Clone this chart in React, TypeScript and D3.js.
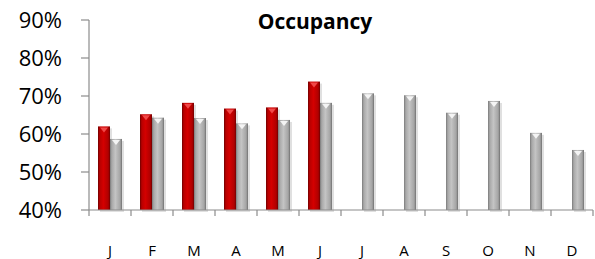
import React from 'react';
import * as d3 from 'd3';

const months = ['J', 'F', 'M', 'A', 'M', 'J', 'J', 'A', 'S', 'O', 'N', 'D'];
const actual: (number | null)[] = [0.62, 0.652, 0.682, 0.667, 0.67, 0.738, null, null, null, null, null, null];
const lastYear: number[] = [0.587, 0.643, 0.642, 0.628, 0.637, 0.682, 0.707, 0.702, 0.656, 0.687, 0.603, 0.558];
const yTicks = [0.4, 0.5, 0.6, 0.7, 0.8, 0.9];

const W = 595;
const H = 259;
const margin = { left: 89, right: 2, top: 20, bottom: 49 };

const App: React.FC = () => {
  const x = d3.scaleBand<number>()
    .domain(d3.range(months.length))
    .range([margin.left, W - margin.right]);
  const y = d3.scaleLinear().domain([0.4, 0.9]).range([H - margin.bottom, margin.top]);
  const barW = 12;
  const inner = d3.scaleBand<string>().domain(['a', 'b']).range([x.bandwidth() / 2 - barW, x.bandwidth() / 2 + barW]);

  const bar = (key: string, i: number, v: number, kind: 'red' | 'gray') => {
    const bx = (x(i) as number) + (inner(kind === 'red' ? 'a' : 'b') as number);
    const top = y(v);
    const bottom = y(0.4);
    const tri = `M${bx + 2},${top + 1} L${bx + barW - 2},${top + 1} L${bx + barW / 2},${top + 6} Z`;
    return (
      <g key={key}>
        <rect x={bx + 2} y={top + 2} width={barW} height={bottom - top} fill="#000" opacity={0.12} />
        <rect x={bx} y={top} width={barW} height={bottom - top} fill={`url(#g-${kind})`} />
        <path d={tri} fill={kind === 'red' ? '#f04848' : '#f4f4f4'} />
      </g>
    );
  };

  return (
    <svg width={W} height={H} style={{ position: 'absolute', left: 0, top: 0, background: '#fff' }}
      fontFamily="'Open Sans', sans-serif">
      <defs>
        <linearGradient id="g-red" x1="0" x2="1" y1="0" y2="0">
          <stop offset="0" stopColor="#6e0000" />
          <stop offset="0.15" stopColor="#b80000" />
          <stop offset="0.45" stopColor="#d40000" />
          <stop offset="0.85" stopColor="#b00000" />
          <stop offset="1" stopColor="#700000" />
        </linearGradient>
        <linearGradient id="g-gray" x1="0" x2="1" y1="0" y2="0">
          <stop offset="0" stopColor="#7a7a7a" />
          <stop offset="0.15" stopColor="#a8a8a8" />
          <stop offset="0.45" stopColor="#c4c4c4" />
          <stop offset="0.85" stopColor="#a4a4a4" />
          <stop offset="1" stopColor="#707070" />
        </linearGradient>
      </defs>

      <text x={315} y={29} textAnchor="middle" fontSize={21} fontWeight="bold" fill="#000">Occupancy</text>

      {months.map((m, i) => (
        <g key={'b' + i}>
          {actual[i] != null && bar('r' + i, i, actual[i] as number, 'red')}
          {bar('g' + i, i, lastYear[i], 'gray')}
        </g>
      ))}

      {/* y axis */}
      <line x1={margin.left} x2={margin.left} y1={y(0.9)} y2={y(0.4)} stroke="#8c8c8c" strokeWidth={1.2} />
      {yTicks.map(t => (
        <g key={'y' + t}>
          <line x1={margin.left - 8} x2={margin.left} y1={y(t)} y2={y(t)} stroke="#8c8c8c" strokeWidth={1.2} />
          <text x={62} y={y(t)} dy="0.36em" textAnchor="end" fontSize={22} fill="#000">{d3.format('.0%')(t)}</text>
        </g>
      ))}

      {/* x axis */}
      <line x1={margin.left} x2={W - margin.right} y1={y(0.4)} y2={y(0.4)} stroke="#8c8c8c" strokeWidth={1.2} />
      {d3.range(months.length + 1).map(i => {
        const tx = i < months.length ? (x(i) as number) : W - margin.right;
        return <line key={'xt' + i} x1={tx} x2={tx} y1={y(0.4)} y2={y(0.4) + 6} stroke="#8c8c8c" strokeWidth={1.2} />;
      })}
      {months.map((m, i) => (
        <text key={'xl' + i} x={(x(i) as number) + x.bandwidth() / 2} y={256}
          textAnchor="middle" fontSize={15} fill="#000">{m}</text>
      ))}
    </svg>
  );
};

export default App;
